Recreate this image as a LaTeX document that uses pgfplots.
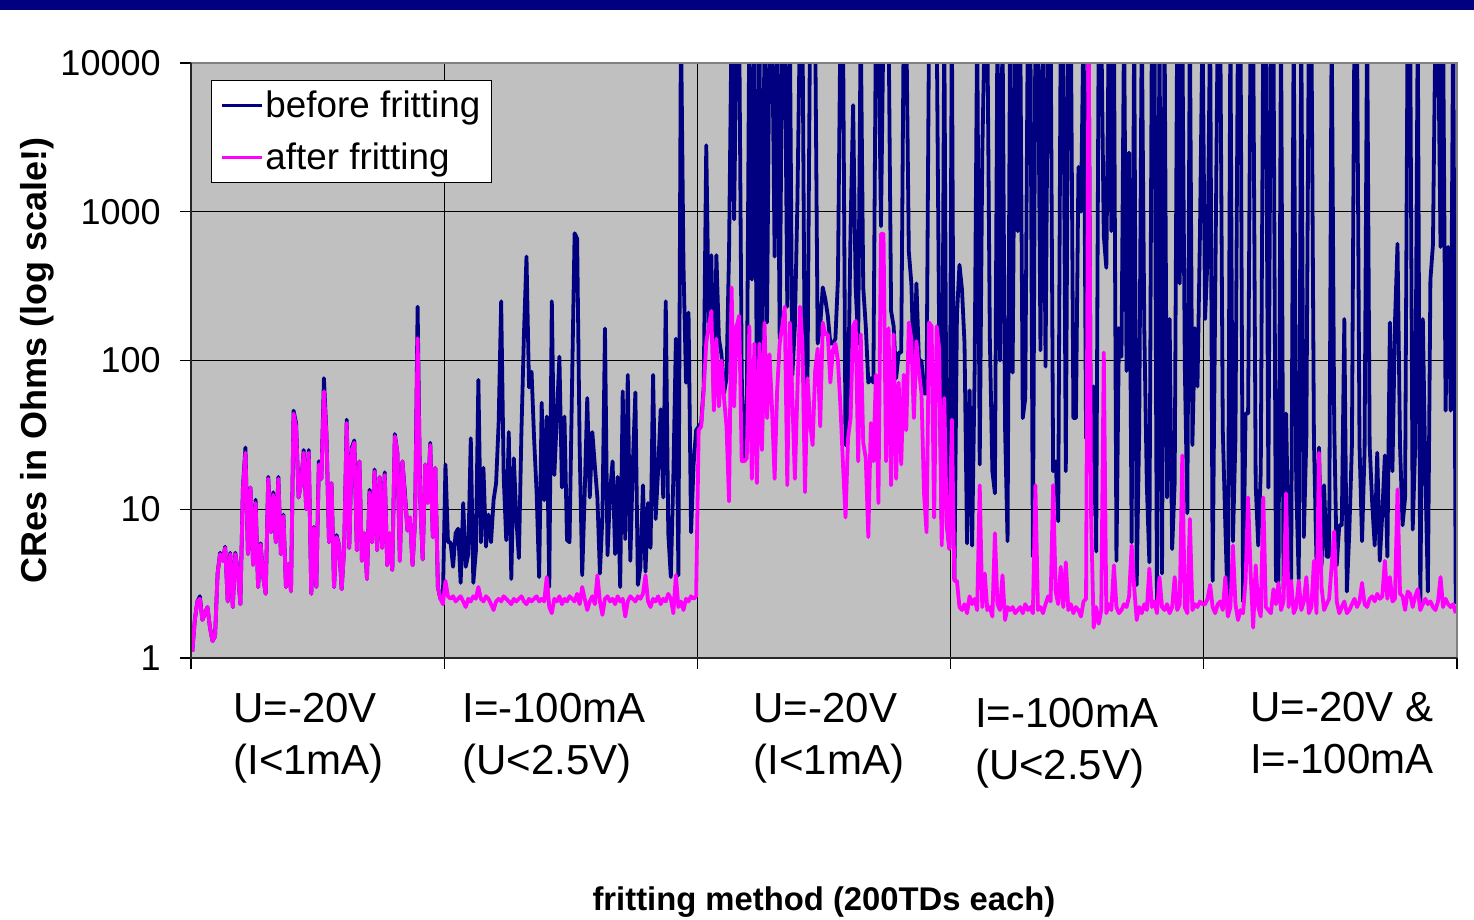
\documentclass[border=0pt]{standalone}
\usepackage{fontspec}
\setmainfont{Liberation Sans}
\usepackage{pgfplots}
\usepackage{pgfplotstable}
\pgfplotsset{compat=1.18}
\definecolor{navyc}{RGB}{0,0,128}
\definecolor{magc}{RGB}{255,0,255}
\definecolor{bgc}{RGB}{192,192,192}
\definecolor{frc}{RGB}{128,128,128}

% x = test-device index (5 methods x 100 points), b = before fritting, a = after fritting
\pgfplotstableread[row sep=\\]{
x b a\\
1 1.1 1.1\\ 2 1.8 1.8\\ 3 2.4 2.4\\ 4 2.6 2.5\\ 5 1.8 1.8\\
6 2.0 2.0\\ 7 2.2 2.2\\ 8 1.6 1.6\\ 9 1.3 1.3\\ 10 1.4 1.4\\
11 3.7 3.7\\ 12 5.1 5.0\\ 13 4.5 4.5\\ 14 5.6 5.5\\ 15 2.4 2.4\\
16 5.1 5.0\\ 17 2.2 2.2\\ 18 5.1 5.0\\ 19 3.8 3.8\\ 20 2.3 2.3\\
21 14 13.5\\ 22 26 24\\ 23 5 5\\ 24 14 14\\ 25 4.4 4.2\\
26 11.6 11\\ 27 3 3\\ 28 5.9 5.8\\ 29 3.5 3.5\\ 30 2.7 2.7\\
31 16.5 16\\ 32 7 7\\ 33 13 12.5\\ 34 6 6\\ 35 16.5 16\\
36 5 5\\ 37 9.2 9\\ 38 3 3\\ 39 4.3 4.3\\ 40 2.8 2.8\\
41 46 44\\ 42 38 36\\ 43 12 12\\ 44 15 15\\ 45 25 24\\
46 10 10\\ 47 25 24\\ 48 2.7 2.7\\ 49 7.6 7.5\\ 50 3 3\\
51 21 20\\ 52 16 16\\ 53 76 62\\ 54 32 31\\ 55 6 6\\
56 15 15\\ 57 3 3\\ 58 6.7 6.5\\ 59 5.7 5.7\\ 60 2.9 2.9\\
61 5.5 5.5\\ 62 40 38\\ 63 5.5 5.5\\ 64 26 25\\ 65 29 28\\
66 5.3 5.3\\ 67 21 21\\ 68 4.5 4.5\\ 69 6.9 6.9\\ 70 3.4 3.4\\
71 13.5 13\\ 72 6 6\\ 73 18.5 18\\ 74 5.3 5.3\\ 75 16.5 16.5\\
76 5.5 5.5\\ 77 17.7 17\\ 78 4.2 4.2\\ 79 6.9 6.9\\ 80 3.9 3.9\\
81 32 31\\ 82 24 24\\ 83 4.5 4.5\\ 84 21 21\\ 85 12.8 12\\
86 7.2 7.2\\ 87 8.8 8.8\\ 88 4.2 4.2\\ 89 8.5 8.3\\ 90 230 141\\
91 12 12\\ 92 4.6 4.6\\ 93 20 20\\ 94 11.6 11\\ 95 28 27\\
96 6.5 6.5\\ 97 19 19\\ 98 3 3\\ 99 2.5 2.5\\ 100 2.6 2.3\\
101 20 3.3\\ 102 6 2.6\\ 103 6 2.5\\ 104 4.1 2.6\\ 105 6.9 2.4\\
106 7.4 2.5\\ 107 3.2 2.6\\ 108 11 2.4\\ 109 4.1 2.2\\ 110 5 2.5\\
111 30 2.4\\ 112 3.2 2.6\\ 113 5.2 2.5\\ 114 74 3.0\\ 115 6 2.5\\
116 19 2.4\\ 117 5.6 2.6\\ 118 9.2 2.5\\ 119 6 2.3\\ 120 11.5 2.1\\
121 15 2.4\\ 122 38 2.5\\ 123 250 2.4\\ 124 16.5 2.6\\ 125 6.2 2.5\\
126 33 2.4\\ 127 3.4 2.3\\ 128 22 2.5\\ 129 8.6 2.4\\ 130 4.7 2.5\\
131 33 2.6\\ 132 150 2.4\\ 133 500 2.3\\ 134 66 2.5\\ 135 84 2.4\\
136 30 2.5\\ 137 12.9 2.6\\ 138 3.5 2.4\\ 139 52 2.5\\ 140 11.5 2.4\\
141 42 3.5\\ 142 3.0 2.2\\ 143 250 2.0\\ 144 17 2.5\\ 145 42 2.4\\
146 106 2.6\\ 147 14 2.3\\ 148 42 2.5\\ 149 6.2 2.4\\ 150 6 2.6\\
151 70 2.5\\ 152 716 2.4\\ 153 660 2.7\\ 154 26 2.3\\ 155 3.6 3.0\\
156 13 2.5\\ 157 56 2.1\\ 158 12 2.4\\ 159 33 2.6\\ 160 19.6 2.3\\
161 12 3.6\\ 162 3.7 2.4\\ 163 9 1.95\\ 164 164 2.5\\ 165 4.9 2.6\\
166 12.9 2.4\\ 167 21 2.5\\ 168 5 2.3\\ 169 16.5 2.6\\ 170 3.0 2.4\\
171 62 2.5\\ 172 6.3 1.9\\ 173 80 2.4\\ 174 4.5 2.6\\ 175 20 2.5\\
176 61 2.4\\ 177 3.1 2.6\\ 178 4.1 2.5\\ 179 14.5 2.7\\ 180 3.8 3.6\\
181 11 2.4\\ 182 5.5 2.2\\ 183 80 2.5\\ 184 8.6 2.4\\ 185 18.5 2.6\\
186 47 2.3\\ 187 12 2.5\\ 188 250 2.4\\ 189 6.9 2.7\\ 190 3.5 2.5\\
191 16.5 2.0\\ 192 140 3.6\\ 193 3.6 2.2\\ 194 20000 2.4\\ 195 440 2.1\\
196 71 2.5\\ 197 210 2.4\\ 198 7 2.6\\ 199 20 2.5\\ 200 34 2.6\\
201 36 34\\ 202 38 36\\ 203 67 63\\ 204 2800 132\\ 205 180 170\\
206 510 215\\ 207 56 46\\ 208 510 140\\ 209 140 49\\ 210 110 100\\
211 60 56\\ 212 76 36\\ 213 540 11.3\\ 214 20000 310\\ 215 890 49\\
216 20000 170\\ 217 20000 200\\ 218 80 21\\ 219 22 21\\ 220 40 22\\
221 20000 170\\ 222 350 16\\ 223 20000 130\\ 224 60 15\\ 225 20000 130\\
226 26 25\\ 227 20000 180\\ 228 180 41\\ 229 20000 110\\ 230 20000 46\\
231 500 16\\ 232 20000 63\\ 233 140 130\\ 234 20000 170\\ 235 20000 230\\
236 230 14.5\\ 237 20000 180\\ 238 80 56\\ 239 170 16\\ 240 1170 63\\
241 20000 230\\ 242 20000 130\\ 243 44 13\\ 244 80 76\\ 245 20000 38\\
246 20000 27\\ 247 20000 85\\ 248 130 120\\ 249 170 36\\ 250 310 180\\
251 260 150\\ 252 200 150\\ 253 130 71\\ 254 130 117\\ 255 140 130\\
256 350 100\\ 257 20000 49\\ 258 20000 20\\ 259 27 8.8\\ 260 52 30\\
261 780 41\\ 262 5200 170\\ 263 310 185\\ 264 130 21\\ 265 20000 150\\
266 310 28\\ 267 170 22\\ 268 71 6.5\\ 269 76 38\\ 270 71 21\\
271 20000 80\\ 272 20000 11\\ 273 800 710\\ 274 20000 710\\ 275 20000 21\\
276 20000 165\\ 277 215 14.5\\ 278 170 150\\ 279 76 16\\ 280 113 71\\
281 113 20\\ 282 20000 80\\ 283 20000 34\\ 284 540 180\\ 285 330 140\\
286 78 41\\ 287 330 135\\ 288 100 85\\ 289 100 60\\ 290 60 12.8\\
291 60 7\\ 292 20000 180\\ 293 20000 170\\ 294 20000 8.8\\ 295 20000 170\\
296 130 120\\ 297 7.8 5.7\\ 298 20000 56\\ 299 8.3 7.8\\ 300 5.5 5.4\\
301 20000 40\\ 302 3.4 3.3\\ 303 200 3.3\\ 304 440 2.2\\ 305 300 2.1\\
306 130 2.3\\ 307 5.9 2.0\\ 308 63 2.6\\ 309 5.7 2.3\\ 310 85 2.5\\
311 20000 2.1\\ 312 20 14.5\\ 313 2360 2.2\\ 314 20000 3.7\\ 315 20000 2.1\\
316 140 2.2\\ 317 18 1.9\\ 318 12.8 6.9\\ 319 20000 2.3\\ 320 100 2.1\\
321 20000 3.6\\ 322 36 1.8\\ 323 6.1 2.2\\ 324 20000 2.1\\ 325 83 2.2\\
326 20000 2.0\\ 327 740 2.1\\ 328 20000 2.2\\ 329 41 2.0\\ 330 56 2.3\\
331 20000 2.1\\ 332 20000 2.2\\ 333 4.8 2.0\\ 334 20000 14.5\\ 335 20000 2.1\\
336 117 2.2\\ 337 20000 2.0\\ 338 91 2.3\\ 339 20000 2.6\\ 340 20000 2.4\\
341 18 14.5\\ 342 21 2.8\\ 343 8.3 2.3\\ 344 20000 4.1\\ 345 20000 2.2\\
346 18 4.4\\ 347 20000 2.1\\ 348 20000 2.3\\ 349 41 2.0\\ 350 41 2.2\\
351 2000 2.1\\ 352 1000 1.9\\ 353 20000 2.4\\ 354 30 2.5\\ 355 20000 20000\\
356 9 8.8\\ 357 67 1.6\\ 358 5.2 2.2\\ 359 20000 1.7\\ 360 20000 2.1\\
361 690 113\\ 362 420 2.0\\ 363 20000 2.3\\ 364 740 2.1\\ 365 20000 4.2\\
366 4.5 2.2\\ 367 165 2.0\\ 368 106 2.1\\ 369 20000 2.3\\ 370 85 2.2\\
371 2500 2.6\\ 372 6 5.7\\ 373 20000 3.0\\ 374 3.1 1.8\\ 375 36 2.2\\
376 20000 2.0\\ 377 165 2.3\\ 378 14.5 2.1\\ 379 4.4 4.0\\ 380 20000 2.2\\
381 20000 2.4\\ 382 2.4 2.0\\ 383 20000 3.5\\ 384 3.7 2.2\\ 385 20000 2.1\\
386 12 2.3\\ 387 190 2.0\\ 388 5.4 2.2\\ 389 15 3.5\\ 390 20000 2.1\\
391 330 2.3\\ 392 20000 23\\ 393 91 2.2\\ 394 9.4 2.0\\ 395 20000 8.6\\
396 27 2.1\\ 397 165 2.3\\ 398 67 2.2\\ 399 740 2.4\\ 400 20000 2.3\\
401 190 2.3\\ 402 500 2.5\\ 403 20000 3.1\\ 404 3.3 2.2\\ 405 260 2.0\\
406 20000 2.3\\ 407 20000 2.4\\ 408 34 2.1\\ 409 7.8 3.5\\ 410 2.0 1.9\\
411 20000 2.2\\ 412 6.1 5.7\\ 413 30 2.3\\ 414 20000 1.8\\ 415 20000 2.1\\
416 2.4 2.0\\ 417 44 3.3\\ 418 44 12\\ 419 20000 3.7\\ 420 20000 1.6\\
421 14.5 4.2\\ 422 5.7 2.2\\ 423 18 1.9\\ 424 20000 12\\ 425 20000 2.2\\
426 14 2.1\\ 427 20000 2.0\\ 428 20000 2.9\\ 429 3.3 2.3\\ 430 3.3 3.2\\
431 20000 2.1\\ 432 2.9 2.4\\ 433 44 12.8\\ 434 4.8 2.2\\ 435 3.4 3.3\\
436 20000 2.0\\ 437 14.5 2.2\\ 438 3.4 3.3\\ 439 20000 2.1\\ 440 6.5 2.4\\
441 30 3.5\\ 442 20000 2.0\\ 443 20000 2.2\\ 444 29 4.5\\ 445 4.5 2.0\\
446 26 24\\ 447 4.2 3.0\\ 448 14.5 2.1\\ 449 4.8 2.3\\ 450 4.8 2.5\\
451 20000 4.2\\ 452 38 7.1\\ 453 4.2 2.4\\ 454 7.8 2.0\\ 455 7.8 2.2\\
456 190 2.4\\ 457 2.8 2.0\\ 458 7.3 2.1\\ 459 27 2.3\\ 460 20000 2.5\\
461 20000 2.2\\ 462 27 2.4\\ 463 6.1 3.2\\ 464 25 2.3\\ 465 20000 2.2\\
466 27 2.5\\ 467 11 2.6\\ 468 5.7 2.4\\ 469 24 2.7\\ 470 4.5 2.5\\
471 9.4 2.6\\ 472 23 4.5\\ 473 4.8 2.5\\ 474 180 3.5\\ 475 18 2.4\\
476 180 2.5\\ 477 610 13.6\\ 478 27 2.7\\ 479 7.8 2.6\\ 480 12 2.1\\
481 20000 2.8\\ 482 20000 2.7\\ 483 7.3 2.2\\ 484 27 2.6\\ 485 20000 2.9\\
486 2.2 2.1\\ 487 190 2.3\\ 488 18 2.5\\ 489 2.8 2.3\\ 490 350 2.4\\
491 600 2.2\\ 492 20000 2.1\\ 493 20000 2.4\\ 494 580 3.5\\ 495 20000 2.2\\
496 46 2.5\\ 497 580 2.3\\ 498 46 2.2\\ 499 20000 2.3\\ 500 2.3 2.0\\
}\cres

\begin{document}
\begin{tikzpicture}
\useasboundingbox (0pt,0pt) rectangle (737pt,460pt);
\fill[navyc] (0pt,455pt) rectangle (737pt,460pt);
\begin{axis}[
  at={(95.5pt,131pt)}, anchor=south west,
  scale only axis, width=633pt, height=297.5pt,
  ymode=log, ymin=1, ymax=10000,
  xmin=0.5, xmax=500.5,
  xtick={0.5,100.5,200.5,300.5,400.5,500.5},
  xticklabels={,,,,,},
  ytick={1,10,100,1000,10000},
  yticklabels={1,10,100,1000,10000},
  yminorticks=false,
  xtick pos=left, ytick pos=left,
  tick align=outside, major tick length=5.5pt,
  tick style={black, line width=0.6pt},
  yticklabel style={font=\fontsize{18}{18}\selectfont, inner sep=0pt, xshift=-9.5pt},
  grid=major,
  major grid style={black, line width=0.5pt},
  axis background/.style={fill=bgc},
  axis line style={frc, line width=0.5pt},
  clip mode=individual,
  every axis y label/.style={at={(axis description cs:-0.1216,0.5)}, rotate=90, anchor=center, font=\fontsize{18}{18}\selectfont\bfseries},
  every axis x label/.style={at={(axis description cs:0.5,-0.41)}, anchor=center, font=\fontsize{16.4}{16.4}\selectfont\bfseries},
  ylabel={CRes in Ohms (log scale!)},
  xlabel={fritting method (200TDs each)},
  legend style={at={(axis description cs:0,1)}, anchor=north west, xshift=10pt, yshift=-8.5pt,
    draw=black, line width=0.5pt, fill=white, font=\fontsize{18.4}{18.4}\selectfont,
    inner xsep=4.5pt, inner ysep=4.25pt, row sep=9pt, nodes={inner sep=1pt}},
  legend cell align=left,
  /tikz/every even column/.append style={column sep=4.5pt},
  legend image code/.code={\draw[#1, line width=1.5pt] (0pt,0pt) -- (20pt,0pt);},
]
\addplot[navyc, line width=1.9pt, line join=round, mark=none] table[x=x, y=b] {\cres};
\addlegendentry{before fritting}
\addplot[magc, line width=1.9pt, line join=round, mark=none] table[x=x, y=a] {\cres};
\addlegendentry{after fritting}
\draw[frc, line width=0.6pt] (rel axis cs:0,1) -- (rel axis cs:1,1) -- (rel axis cs:1,0);
\draw[black!85, line width=1pt] (rel axis cs:0,1) -- (rel axis cs:0,0) -- (rel axis cs:1,0);
\begin{scope}[every node/.style={anchor=north west, inner sep=0pt, align=left, font=\fontsize{21}{26}\selectfont}]
\node[yshift=-17.5pt] at (axis cs:17.1,1) {U=-20V\\(I<1mA)};
\node[yshift=-17.5pt] at (axis cs:107.5,1) {I=-100mA\\(U<2.5V)};
\node[yshift=-17.5pt] at (axis cs:222.5,1) {U=-20V\\(I<1mA)};
\node[yshift=-20pt] at (axis cs:310,1) {I=-100mA\\(U<2.5V)};
\node[yshift=-17pt] at (axis cs:418.7,1) {U=-20V \&\\I=-100mA};
\end{scope}
\end{axis}
\end{tikzpicture}
\end{document}
